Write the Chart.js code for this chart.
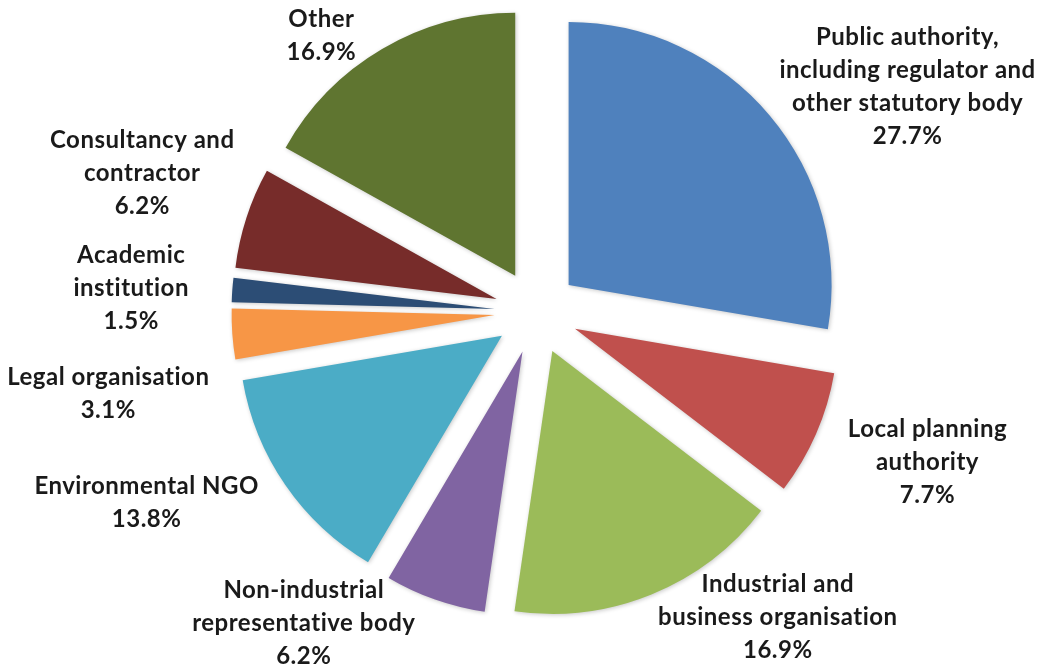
<!DOCTYPE html>
<html>
<head>
<meta charset="utf-8">
<script src="https://cdn.jsdelivr.net/npm/chart.js@4/dist/chart.umd.min.js"></script>
<style>
  html, body { margin: 0; padding: 0; background: #fff; }
  #wrap { width: 1039px; height: 668px; position: relative; }
</style>
</head>
<body>
<div id="wrap"><canvas id="respondentChart"></canvas></div>
<script>
// Respondent types, each label split into its display lines
const categories = [
    ['Public authority,', 'including regulator and', 'other statutory body'],
    ['Local planning', 'authority'],
    ['Industrial and', 'business organisation'],
    ['Non-industrial', 'representative body'],
    ['Environmental NGO'],
    ['Legal organisation'],
    ['Academic', 'institution'],
    ['Consultancy and', 'contractor'],
    ['Other'],
];
const shares = [27.7, 7.7, 16.9, 6.2, 13.8, 3.1, 1.5, 6.2, 16.9];
const sliceColors = ['#4F81BD', '#C0504D', '#9BBB59', '#8064A2', '#4BACC6', '#F79646', '#2C4D75', '#772C2A', '#5F7530'];

// Label placement: angle shift from slice mid-angle (degrees) and distance from the pie centre
const labelShift = [8.9, -2.5, -16.2, 17.3, 8.5, -6.7, -0.8, 1.4, -7.5];
const labelDist = [434, 419, 389, 389, 434, 436, 406, 418, 350];

const EXPLODE = 42;       // how far every slice is pulled out
const LINE_HEIGHT = 33;
const LABEL_FONT = 'bold 24px Lato, "Open Sans", sans-serif';

// Pull each slice out along its own mid-angle, then draw it with the arc element itself
const explodedSlices = {
    id: 'explodedSlices',
    beforeDatasetDraw(chart, args) {
        const ctx = chart.ctx;
        args.meta.data.forEach((arc) => {
            const mid = (arc.startAngle + arc.endAngle) / 2;
            ctx.save();
            ctx.translate(Math.cos(mid) * EXPLODE, Math.sin(mid) * EXPLODE);
            ctx.shadowColor = 'rgba(0, 0, 0, 0.22)';
            ctx.shadowBlur = 4;
            ctx.shadowOffsetX = 1;
            ctx.shadowOffsetY = 1;
            arc.draw(ctx);
            ctx.restore();
        });
        return false;
    },
};

const sliceLabels = {
    id: 'sliceLabels',
    afterDraw(chart) {
        const ctx = chart.ctx;
        const meta = chart.getDatasetMeta(0);
        ctx.save();
        ctx.font = LABEL_FONT;
        ctx.textRendering = 'optimizeSpeed'; // no "ti" ligatures
        ctx.letterSpacing = '0.5px';
        ctx.fillStyle = '#1a1a1a';
        ctx.textAlign = 'center';
        ctx.textBaseline = 'middle';
        meta.data.forEach((arc, i) => {
            const angle = (arc.startAngle + arc.endAngle) / 2 + labelShift[i] * Math.PI / 180;
            const x = arc.x + Math.cos(angle) * labelDist[i];
            const y = arc.y + Math.sin(angle) * labelDist[i];
            const lines = [...categories[i], shares[i].toFixed(1) + '%'];
            const top = y - (lines.length - 1) * LINE_HEIGHT / 2;
            lines.forEach((line, j) => ctx.fillText(line, x, top + j * LINE_HEIGHT));
        });
        ctx.restore();
    },
};

document.addEventListener('DOMContentLoaded', () => {
    const ctx = document.getElementById('respondentChart').getContext('2d');

    new Chart(ctx, {
        type: 'pie',
        data: {
            labels: categories,
            datasets: [
                {
                    data: shares,
                    backgroundColor: sliceColors,
                    borderWidth: 0,
                    hoverOffset: 0,
                },
            ],
        },
        options: {
            responsive: true,
            maintainAspectRatio: false,
            animation: false,
            radius: 263,
            layout: { padding: { left: 34, right: 0, top: 0, bottom: 44 } },
            plugins: {
                legend: { display: false },
                tooltip: { enabled: false },
            },
            events: [],
        },
        plugins: [explodedSlices, sliceLabels],
    });
});
</script>
</body>
</html>
